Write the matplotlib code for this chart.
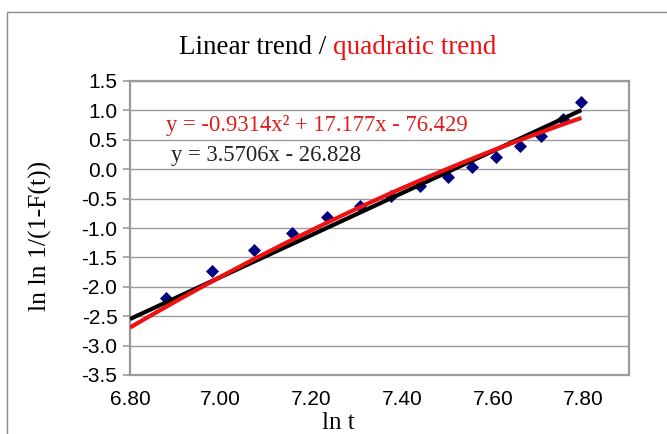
import matplotlib
matplotlib.use("Agg")
import matplotlib.pyplot as plt
import numpy as np
from matplotlib.patches import Rectangle

# ---- data ----
ln_t = [6.879, 6.981, 7.073, 7.158, 7.234, 7.307, 7.375, 7.440, 7.500,
        7.555, 7.607, 7.660, 7.706, 7.754, 7.795]
lnln = [-2.19, -1.73, -1.37, -1.08, -0.82, -0.62, -0.45, -0.29, -0.13,
        0.04, 0.21, 0.39, 0.57, 0.86, 1.15]
lin_coef = [3.5706, -26.828]
quad_coef = [-0.9314, 17.177, -76.429]
trend_start = 6.80
x_ticks = [6.80, 7.00, 7.20, 7.40, 7.60, 7.80]
y_ticks = [1.5, 1.0, 0.5, 0.0, -0.5, -1.0, -1.5, -2.0, -2.5, -3.0, -3.5]

W, H = 667, 434
fig = plt.figure(figsize=(W / 100, H / 100), dpi=100)
# outer chart border
fig.patches.append(Rectangle((7 / W, -0.05), 1.1, 1 - 12 / H + 0.05,
                             transform=fig.transFigure, fill=False,
                             edgecolor="#8c8c8c", linewidth=1.0))

ax = fig.add_axes([130 / W, 1 - 375 / H, (629 - 130) / W, (375 - 81) / H])
ax.set_xlim(6.80, 7.90)
ax.set_ylim(-3.5, 1.5)

grid_c = "#9a9a9a"
for yt in y_ticks:
    ax.axhline(yt, color=grid_c, linewidth=1.0, zorder=1)
for s in ax.spines.values():
    s.set_color(grid_c)
    s.set_linewidth(1.6)

ax.set_xticks(x_ticks)
ax.set_xticklabels([f"{v:.2f}" for v in x_ticks])
ax.set_yticks(y_ticks)
ax.set_yticklabels([f"{v:.1f}" for v in y_ticks])
ax.tick_params(axis="x", length=0, pad=11, labelsize=15, labelfontfamily="Liberation Sans")
ax.tick_params(axis="y", length=5, width=1.2, color=grid_c, pad=4, labelsize=15,
               labelfontfamily="Liberation Sans")

# data points
ax.scatter(ln_t, lnln, marker="D", s=44, color="#000080", zorder=3, linewidths=0)

# trend lines
xs = np.linspace(trend_start, max(ln_t), 100)
ax.plot(xs, np.polyval(lin_coef, xs), color="black", linewidth=3.0, zorder=4,
        solid_capstyle="butt")
ax.plot(xs, np.polyval(quad_coef, xs), color="#ee1111", linewidth=3.0, zorder=5,
        solid_capstyle="butt")

serif = "Liberation Serif"
ax.text(166 / W, 1 - 126 / H, "y = -0.9314x² + 17.177x - 76.429", transform=fig.transFigure,
        color="#dd1c1c", fontsize=16.3, family=serif, va="center", ha="left")
ax.text(171 / W, 1 - 155 / H, "y = 3.5706x - 26.828", transform=fig.transFigure,
        color="#222222", fontsize=16.3, family=serif, va="center", ha="left")

fig.text(40 / W, 1 - 236 / H, "ln ln 1/(1-F(t))", rotation=90, family=serif,
         fontsize=18.5, ha="center", va="center")
fig.text(338 / W, 1 - 423 / H, "ln t", family=serif, fontsize=18, ha="center", va="center")

# two-coloured title
fig.canvas.draw()
r = fig.canvas.get_renderer()
t1 = fig.text(0, 1 - 47 / H, "Linear trend / ", family=serif, fontsize=19.5, color="black",
              va="center", ha="left")
t2 = fig.text(0, 1 - 47 / H, "quadratic trend", family=serif, fontsize=19.5, color="#ee1111",
              va="center", ha="left")
w1 = t1.get_window_extent(r).width
w2 = t2.get_window_extent(r).width
x0 = 338 - (w1 + w2) / 2
t1.set_x(x0 / W)
t2.set_x((x0 + w1) / W)

fig.savefig("out.png", dpi=100)
